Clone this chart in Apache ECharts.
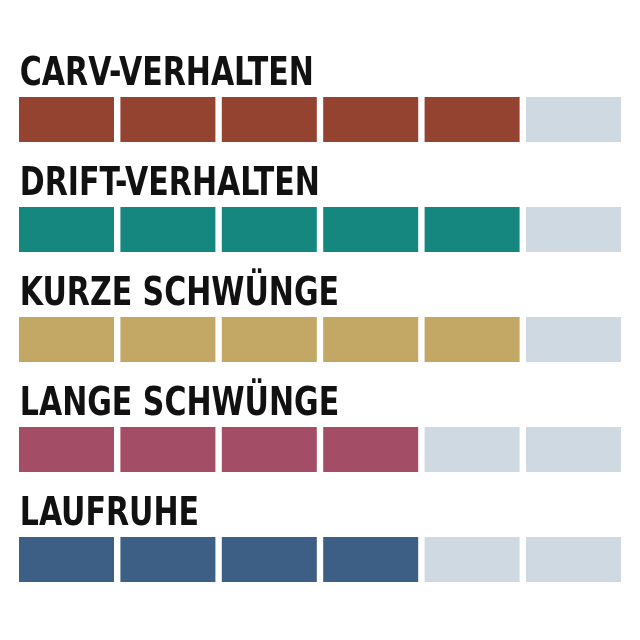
<!DOCTYPE html>
<html><head><meta charset="utf-8">
<script src="https://cdn.jsdelivr.net/npm/echarts@6/dist/echarts.min.js"></script>
<style>html,body{margin:0;padding:0;background:#fff}#c{width:640px;height:640px}</style>
</head><body><div id="c"></div>
<script>
const categories = ['CARV-VERHALTEN','DRIFT-VERHALTEN','KURZE SCHWÜNGE','LANGE SCHWÜNGE','LAUFRUHE'];
const scores = [5,5,5,4,4];
const maxScore = 6;
const colors = ['#93432F','#15877F','#C2A765','#A44D66','#3D5E85'];
const emptyColor = '#CFD9E1';

const cells = [];
categories.forEach((c, r) => { for (let i = 0; i < maxScore; i++) cells.push([i, r]); });
const titles = categories.map((c, r) => [0, r]);

const chart = echarts.init(document.getElementById('c'));
chart.setOption({
  animation: false,
  grid: {left: 15.8, right: 15.8, top: 64.5, bottom: 25.5},
  xAxis: {type: 'value', min: 0, max: maxScore, show: false},
  yAxis: {type: 'category', data: categories, inverse: true, show: false},
  series: [
    {
      type: 'custom',
      data: cells,
      renderItem: function (params, api) {
        const i = api.value(0), r = api.value(1);
        const p0 = api.coord([i, r]);
        const p1 = api.coord([i + 1, r]);
        const gap = 6.4, h = 45;
        return {
          type: 'rect',
          shape: {x: p0[0] + gap / 2, y: p0[1] - h / 2, width: p1[0] - p0[0] - gap, height: h},
          style: {fill: i < scores[r] ? colors[r] : emptyColor}
        };
      }
    },
    {
      type: 'custom',
      data: titles,
      renderItem: function (params, api) {
        const r = api.value(1);
        const p = api.coord([0, r]);
        return {
          type: 'text',
          x: p[0] + 4, y: p[1] - 22.5 - 3,
          scaleX: 0.855,
          style: {
            text: categories[r],
            fill: '#111',
            font: 'bold 39px "DejaVu Sans Condensed", "DejaVu Sans", sans-serif',
            textAlign: 'left', textVerticalAlign: 'bottom'
          }
        };
      }
    }
  ]
});
</script></body></html>
